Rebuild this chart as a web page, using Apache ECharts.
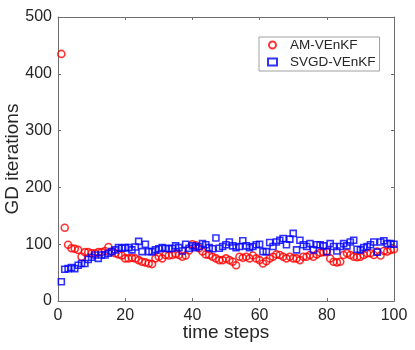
<!DOCTYPE html>
<html>
<head>
<meta charset="utf-8">
<script src="https://cdn.jsdelivr.net/npm/echarts@6/dist/echarts.min.js"></script>
<style>
  html, body { margin: 0; padding: 0; background: #fff; }
  #chart { width: 415px; height: 350px; }
</style>
</head>
<body>
<div id="chart"></div>
<script>
// GD iterations per time step (steps 1..100)
const amVEnKF = [
  435, 129, 99, 93, 92, 90, 78, 86, 86, 84,
  84, 86, 86, 88, 95, 87, 84, 82, 80, 75,
  75, 76, 75, 72, 69, 68, 66, 65, 75, 78,
  75, 81, 80, 81, 83, 81, 78, 80, 89, 100,
  98, 93, 87, 82, 81, 78, 75, 72, 72, 75,
  72, 69, 63, 78, 76, 78, 75, 80, 75, 72,
  66, 70, 75, 78, 82, 81, 78, 75, 78, 75,
  75, 72, 78, 78, 81, 78, 82, 85, 86, 87,
  75, 69, 68, 69, 81, 84, 81, 78, 77, 78,
  81, 84, 84, 81, 87, 80, 88, 87, 90, 91
];
const svgdVEnKF = [
  34, 56, 57, 59, 57, 63, 66, 66, 73, 77,
  81, 75, 81, 81, 84, 87, 90, 94, 93, 94,
  94, 90, 95, 105, 87, 100, 87, 87, 90, 92,
  94, 93, 92, 93, 97, 94, 88, 100, 93, 97,
  94, 96, 101, 99, 94, 92, 111, 93, 96, 99,
  104, 97, 94, 96, 106, 97, 94, 96, 99, 100,
  87, 87, 103, 96, 104, 107, 110, 99, 109, 119,
  90, 107, 99, 96, 101, 90, 99, 99, 97, 87,
  101, 96, 88, 96, 101, 97, 104, 107, 91, 90,
  94, 96, 99, 104, 86, 104, 106, 101, 101, 100
];
const seriesNames = ['AM-VEnKF', 'SVGD-VEnKF'];
const xTicks = [0, 20, 40, 60, 80, 100];
const yTicks = [0, 100, 200, 300, 400, 500];

const toPairs = arr => arr.map((v, i) => [i + 1, v]);

const font = 'Liberation Sans, Arial, sans-serif';
const axisColor = '#6e6e6e';
const textColor = '#262626';

const chart = echarts.init(document.getElementById('chart'));
const baseAxis = {
  axisLine: { show: true, onZero: false, lineStyle: { color: axisColor, width: 1 } },
  axisTick: { show: true, inside: true, length: 3, lineStyle: { color: axisColor } },
  splitLine: { show: false }
};
chart.setOption({
  animation: false,
  backgroundColor: '#fff',
  textStyle: { fontFamily: font },
  grid: { left: 58, right: 21, top: 17, bottom: 49, containLabel: false, outerBoundsMode: 'none' },
  legend: {
    data: seriesNames,
    orient: 'vertical',
    left: 259,
    top: 37,
    padding: [1, 4, 2, 8],
    itemGap: 3,
    itemWidth: 9,
    itemHeight: 7,
    backgroundColor: '#fff',
    borderColor: '#a0a0a0',
    borderWidth: 1,
    textStyle: { fontSize: 13.5, color: textColor, fontFamily: font, padding: [0, 0, 0, 8] }
  },
  xAxis: [
    Object.assign({}, baseAxis, {
      type: 'value', min: xTicks[0], max: xTicks[xTicks.length - 1], interval: 20,
      name: 'time steps', nameLocation: 'middle', nameGap: 22, nameMoveOverlap: false,
      nameTextStyle: { fontSize: 19, color: textColor, fontFamily: font },
      axisLabel: { fontSize: 16, color: textColor, margin: 7, fontFamily: font }
    }),
    Object.assign({}, baseAxis, {
      type: 'value', position: 'top', min: 0, max: 100, interval: 20,
      axisLabel: { show: false }
    })
  ],
  yAxis: [
    Object.assign({}, baseAxis, {
      type: 'value', min: yTicks[0], max: yTicks[yTicks.length - 1], interval: 100,
      name: 'GD iterations', nameLocation: 'middle', nameGap: 36, nameMoveOverlap: false,
      nameTextStyle: { fontSize: 19, color: textColor, fontFamily: font },
      axisLabel: { fontSize: 16, color: textColor, margin: 6, fontFamily: font }
    }),
    Object.assign({}, baseAxis, {
      type: 'value', position: 'right', min: 0, max: 500, interval: 100,
      axisLabel: { show: false }
    })
  ],
  series: [
    {
      name: seriesNames[0],
      type: 'scatter',
      symbol: 'circle',
      symbolSize: 7,
      itemStyle: { color: 'rgba(0,0,0,0)', borderColor: '#ff0000', borderWidth: 1.6 },
      data: toPairs(amVEnKF)
    },
    {
      name: seriesNames[1],
      type: 'scatter',
      symbol: 'rect',
      symbolSize: 6,
      itemStyle: { color: 'rgba(0,0,0,0)', borderColor: '#0000ff', borderWidth: 1.6 },
      data: toPairs(svgdVEnKF)
    }
  ]
});
</script>
</body>
</html>
